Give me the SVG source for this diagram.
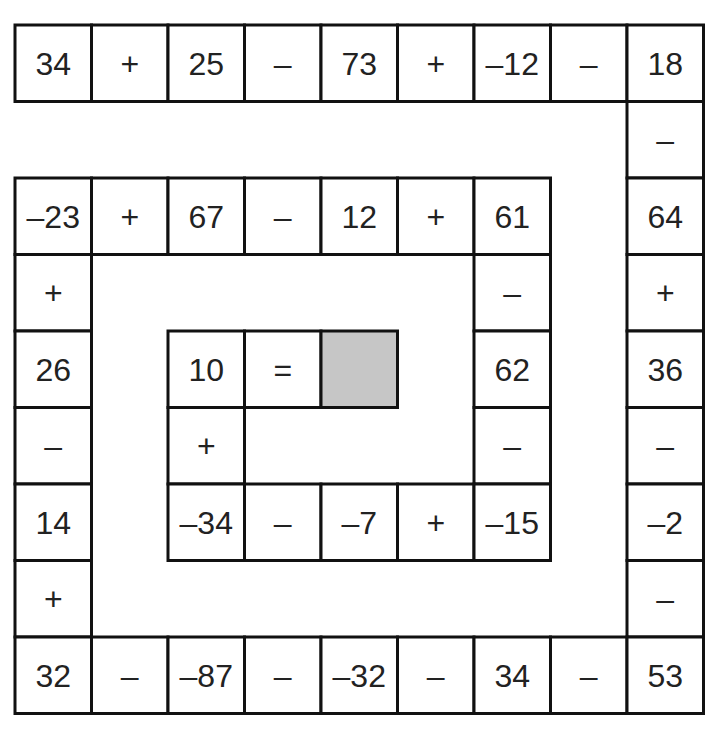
<svg xmlns="http://www.w3.org/2000/svg" width="725" height="743" viewBox="0 0 725 743">
<style>
.c{fill:#fff;stroke:#111;stroke-width:3}
.g{fill:#c6c6c6;stroke:#111;stroke-width:3}
text{font-family:"Liberation Sans",Arial,sans-serif;font-size:32px;fill:#222;text-anchor:middle}
</style>
<rect width="725" height="743" fill="#fff"/>
<g id="connectors"></g>
<g id="r0c0"><rect class="c" x="15" y="25" width="76.5" height="76.5"/><text x="53.25" y="74.75">34</text></g>
<g id="r0c1"><rect class="c" x="91.5" y="25" width="76.5" height="76.5"/><text x="129.75" y="74.75">+</text></g>
<g id="r0c2"><rect class="c" x="168" y="25" width="76.5" height="76.5"/><text x="206.25" y="74.75">25</text></g>
<g id="r0c3"><rect class="c" x="244.5" y="25" width="76.5" height="76.5"/><text x="282.75" y="74.75">–</text></g>
<g id="r0c4"><rect class="c" x="321" y="25" width="76.5" height="76.5"/><text x="359.25" y="74.75">73</text></g>
<g id="r0c5"><rect class="c" x="397.5" y="25" width="76.5" height="76.5"/><text x="435.75" y="74.75">+</text></g>
<g id="r0c6"><rect class="c" x="474" y="25" width="76.5" height="76.5"/><text x="512.25" y="74.75">–12</text></g>
<g id="r0c7"><rect class="c" x="550.5" y="25" width="76.5" height="76.5"/><text x="588.75" y="74.75">–</text></g>
<g id="r0c8"><rect class="c" x="627" y="25" width="76.5" height="76.5"/><text x="665.25" y="74.75">18</text></g>
<g id="r1c8"><rect class="c" x="627" y="101.5" width="76.5" height="76.5"/><text x="665.25" y="151.25">–</text></g>
<g id="r2c0"><rect class="c" x="15" y="178" width="76.5" height="76.5"/><text x="53.25" y="227.75">–23</text></g>
<g id="r2c1"><rect class="c" x="91.5" y="178" width="76.5" height="76.5"/><text x="129.75" y="227.75">+</text></g>
<g id="r2c2"><rect class="c" x="168" y="178" width="76.5" height="76.5"/><text x="206.25" y="227.75">67</text></g>
<g id="r2c3"><rect class="c" x="244.5" y="178" width="76.5" height="76.5"/><text x="282.75" y="227.75">–</text></g>
<g id="r2c4"><rect class="c" x="321" y="178" width="76.5" height="76.5"/><text x="359.25" y="227.75">12</text></g>
<g id="r2c5"><rect class="c" x="397.5" y="178" width="76.5" height="76.5"/><text x="435.75" y="227.75">+</text></g>
<g id="r2c6"><rect class="c" x="474" y="178" width="76.5" height="76.5"/><text x="512.25" y="227.75">61</text></g>
<g id="r2c8"><rect class="c" x="627" y="178" width="76.5" height="76.5"/><text x="665.25" y="227.75">64</text></g>
<g id="r3c0"><rect class="c" x="15" y="254.5" width="76.5" height="76.5"/><text x="53.25" y="304.25">+</text></g>
<g id="r3c6"><rect class="c" x="474" y="254.5" width="76.5" height="76.5"/><text x="512.25" y="304.25">–</text></g>
<g id="r3c8"><rect class="c" x="627" y="254.5" width="76.5" height="76.5"/><text x="665.25" y="304.25">+</text></g>
<g id="r4c0"><rect class="c" x="15" y="331" width="76.5" height="76.5"/><text x="53.25" y="380.75">26</text></g>
<g id="r4c2"><rect class="c" x="168" y="331" width="76.5" height="76.5"/><text x="206.25" y="380.75">10</text></g>
<g id="r4c3"><rect class="c" x="244.5" y="331" width="76.5" height="76.5"/><text x="282.75" y="380.75">=</text></g>
<g id="r4c4"><rect class="g" x="321" y="331" width="76.5" height="76.5"/></g>
<g id="r4c6"><rect class="c" x="474" y="331" width="76.5" height="76.5"/><text x="512.25" y="380.75">62</text></g>
<g id="r4c8"><rect class="c" x="627" y="331" width="76.5" height="76.5"/><text x="665.25" y="380.75">36</text></g>
<g id="r5c0"><rect class="c" x="15" y="407.5" width="76.5" height="76.5"/><text x="53.25" y="457.25">–</text></g>
<g id="r5c2"><rect class="c" x="168" y="407.5" width="76.5" height="76.5"/><text x="206.25" y="457.25">+</text></g>
<g id="r5c6"><rect class="c" x="474" y="407.5" width="76.5" height="76.5"/><text x="512.25" y="457.25">–</text></g>
<g id="r5c8"><rect class="c" x="627" y="407.5" width="76.5" height="76.5"/><text x="665.25" y="457.25">–</text></g>
<g id="r6c0"><rect class="c" x="15" y="484" width="76.5" height="76.5"/><text x="53.25" y="533.75">14</text></g>
<g id="r6c2"><rect class="c" x="168" y="484" width="76.5" height="76.5"/><text x="206.25" y="533.75">–34</text></g>
<g id="r6c3"><rect class="c" x="244.5" y="484" width="76.5" height="76.5"/><text x="282.75" y="533.75">–</text></g>
<g id="r6c4"><rect class="c" x="321" y="484" width="76.5" height="76.5"/><text x="359.25" y="533.75">–7</text></g>
<g id="r6c5"><rect class="c" x="397.5" y="484" width="76.5" height="76.5"/><text x="435.75" y="533.75">+</text></g>
<g id="r6c6"><rect class="c" x="474" y="484" width="76.5" height="76.5"/><text x="512.25" y="533.75">–15</text></g>
<g id="r6c8"><rect class="c" x="627" y="484" width="76.5" height="76.5"/><text x="665.25" y="533.75">–2</text></g>
<g id="r7c0"><rect class="c" x="15" y="560.5" width="76.5" height="76.5"/><text x="53.25" y="610.25">+</text></g>
<g id="r7c8"><rect class="c" x="627" y="560.5" width="76.5" height="76.5"/><text x="665.25" y="610.25">–</text></g>
<g id="r8c0"><rect class="c" x="15" y="637" width="76.5" height="76.5"/><text x="53.25" y="686.75">32</text></g>
<g id="r8c1"><rect class="c" x="91.5" y="637" width="76.5" height="76.5"/><text x="129.75" y="686.75">–</text></g>
<g id="r8c2"><rect class="c" x="168" y="637" width="76.5" height="76.5"/><text x="206.25" y="686.75">–87</text></g>
<g id="r8c3"><rect class="c" x="244.5" y="637" width="76.5" height="76.5"/><text x="282.75" y="686.75">–</text></g>
<g id="r8c4"><rect class="c" x="321" y="637" width="76.5" height="76.5"/><text x="359.25" y="686.75">–32</text></g>
<g id="r8c5"><rect class="c" x="397.5" y="637" width="76.5" height="76.5"/><text x="435.75" y="686.75">–</text></g>
<g id="r8c6"><rect class="c" x="474" y="637" width="76.5" height="76.5"/><text x="512.25" y="686.75">34</text></g>
<g id="r8c7"><rect class="c" x="550.5" y="637" width="76.5" height="76.5"/><text x="588.75" y="686.75">–</text></g>
<g id="r8c8"><rect class="c" x="627" y="637" width="76.5" height="76.5"/><text x="665.25" y="686.75">53</text></g>
</svg>
